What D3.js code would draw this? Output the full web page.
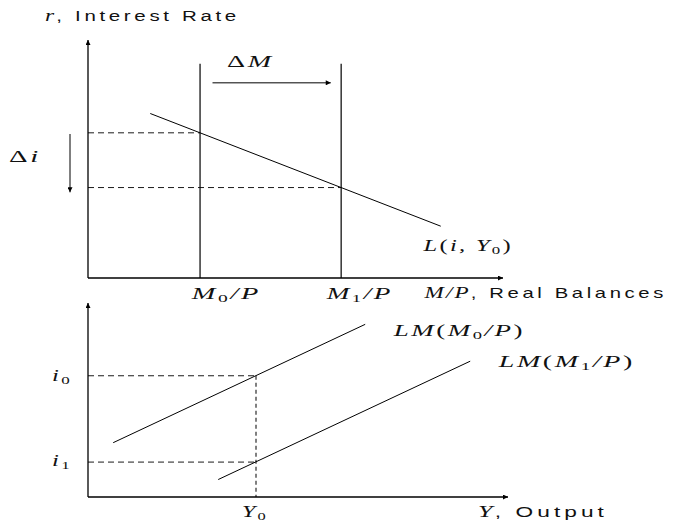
<!DOCTYPE html>
<html>
<head>
<meta charset="utf-8">
<script src="https://cdn.jsdelivr.net/npm/d3@7"></script>
<style>
  body { margin: 0; background: #fff; }
  .math { font-family: "Liberation Serif", serif; font-style: italic; letter-spacing: 1.5px; }
  .rm { font-style: normal; }
  .sans { font-family: "Liberation Sans", sans-serif; font-style: normal; letter-spacing: 2.5px; }
</style>
</head>
<body>
<svg id="chart" width="679" height="523"></svg>
<script>
// top panel: money market (abstract units 0..100)
var moneySupply = [27, 61];          // M0/P, M1/P
var rates = [61, 38];                // i at M0/P, i at M1/P
var demandEnds = [15, 85];           // L(i,Y0) drawn from / to m
var supplyTop = 90;
var deltaM = [30, 58.5, 82];         // arrow x0, x1, y
var deltaI = [60.5, 36];             // arrow y0, y1

// bottom panel: LM curves
var lmX = [[6, 66], [31, 91]];
var lmY = [[28, 89], [9, 70]];
var y0 = 40;
var iLevels = [62.5, 18];

var svg = d3.select("#chart");

var defs = svg.append("defs");
defs.append("marker")
  .attr("id", "head")
  .attr("viewBox", "0 0 10 10")
  .attr("refX", 10).attr("refY", 5)
  .attr("markerWidth", 7).attr("markerHeight", 5)
  .attr("markerUnits", "userSpaceOnUse")
  .attr("orient", "auto")
  .append("path").attr("d", "M0,0L10,5L0,10z").attr("fill", "#000");

var xTop = d3.scaleLinear().domain([0, 100]).range([88, 503]);
var yTop = d3.scaleLinear().domain([0, 100]).range([278, 40]);
var xBot = d3.scaleLinear().domain([0, 100]).range([88, 508]);
var yBot = d3.scaleLinear().domain([0, 100]).range([497, 303]);

function seg(g, x1, y1, x2, y2, opts) {
  opts = opts || {};
  var l = g.append("line")
    .attr("x1", x1).attr("y1", y1).attr("x2", x2).attr("y2", y2)
    .attr("stroke", "#000")
    .attr("stroke-width", opts.w || 1);
  if (opts.dash) l.attr("stroke-dasharray", opts.dash);
  if (opts.arrow) l.attr("marker-end", "url(#head)");
  return l;
}

// label: left x, baseline y, width to stretch to; parts = [text, cls, dy, size]
function label(x, y, w, parts) {
  var g = svg.append("g");
  var t = g.append("text").attr("class", "math").attr("font-size", 16).attr("fill", "#111");
  parts.forEach(function(p) {
    var s = t.append("tspan").text(p[0]);
    if (p[1]) s.attr("class", p[1]);
    if (p[2]) s.attr("dy", p[2]);
    if (p[3]) s.attr("font-size", p[3]);
  });
  var bb = t.node().getBBox();
  var sx = w / bb.width;
  g.attr("transform", "translate(" + (x - bb.x * sx) + "," + y + ") scale(" + sx + ",1)");
  return g;
}

var topG = svg.append("g");

// axes
seg(topG, xTop(0), yTop(0), xTop(0), yTop(100), {w: 1.3, arrow: true});
seg(topG, xTop(0), yTop(0), xTop(100), yTop(0), {w: 1.3, arrow: true});

// money supply verticals
moneySupply.forEach(function(m) {
  seg(topG, xTop(m), yTop(0), xTop(m), yTop(supplyTop), {w: 1.2});
});

// money demand
var slope = (rates[1] - rates[0]) / (moneySupply[1] - moneySupply[0]);
var L = function(m) { return rates[0] + slope * (m - moneySupply[0]); };
topG.append("path")
  .datum(demandEnds)
  .attr("d", d3.line().x(function(m) { return xTop(m); }).y(function(m) { return yTop(L(m)); }))
  .attr("fill", "none").attr("stroke", "#000").attr("stroke-width", 1);

// dashed rate guides
moneySupply.forEach(function(m, i) {
  seg(topG, xTop(0), yTop(rates[i]), xTop(m), yTop(rates[i]), {w: 0.9, dash: "6,4"});
});

// delta arrows
seg(topG, xTop(deltaM[0]), yTop(deltaM[2]), xTop(deltaM[1]), yTop(deltaM[2]), {w: 1, arrow: true});
seg(topG, 70, yTop(deltaI[0]), 70, yTop(deltaI[1]), {w: 1, arrow: true});

label(45, 21, 195, [["r", null], [", Interest Rate", "sans", null, 14]]);
label(227, 67, 47, [["\u0394", "rm"], ["M", null]]);
label(9, 162, 32, [["\u0394", "rm"], ["i", null]]);
label(190, 299, 71, [["M", null], ["0", "rm", 3, 11], ["/P", null, -3]]);
label(325, 299, 68, [["M", null], ["1", "rm", 3, 11], ["/P", null, -3]]);
label(423, 298, 244, [["M/P", null], [", Real Balances", "sans", null, 14]]);
label(422, 251, 91, [["L", null], ["(", "rm"], ["i, Y", null], ["0", "rm", 3, 11], [")", "rm", -3]]);

// bottom panel
var bot = svg.append("g");
seg(bot, xBot(0), yBot(0), xBot(0), yBot(100), {w: 1.3, arrow: true});
seg(bot, xBot(0), yBot(0), xBot(100), yBot(0), {w: 1.3, arrow: true});

var lmLine = d3.line().x(function(d) { return xBot(d[0]); }).y(function(d) { return yBot(d[1]); });
lmX.forEach(function(xs, k) {
  bot.append("path")
    .datum([[xs[0], lmY[k][0]], [xs[1], lmY[k][1]]])
    .attr("d", lmLine)
    .attr("fill", "none").attr("stroke", "#000").attr("stroke-width", 1);
});

iLevels.forEach(function(v) {
  seg(bot, xBot(0), yBot(v), xBot(y0), yBot(v), {w: 0.9, dash: "6,4"});
});
seg(bot, xBot(y0), yBot(iLevels[0]), xBot(y0), yBot(0), {w: 1, dash: "4,3"});

label(52, 381, 20, [["i", null], ["0", "rm", 3, 11]]);
label(52, 466, 20, [["i", null], ["1", "rm", 3, 11]]);
label(242, 517, 26, [["Y", null], ["0", "rm", 3, 11]]);
label(478, 517, 130, [["Y", null], [", Output", "sans", null, 14]]);
label(392, 336, 133, [["LM", null], ["(", "rm"], ["M", null], ["0", "rm", 3, 11], ["/P", null, -3], [")", "rm"]]);
label(497, 367, 138, [["LM", null], ["(", "rm"], ["M", null], ["1", "rm", 3, 11], ["/P", null, -3], [")", "rm"]]);
</script>
</body>
</html>
